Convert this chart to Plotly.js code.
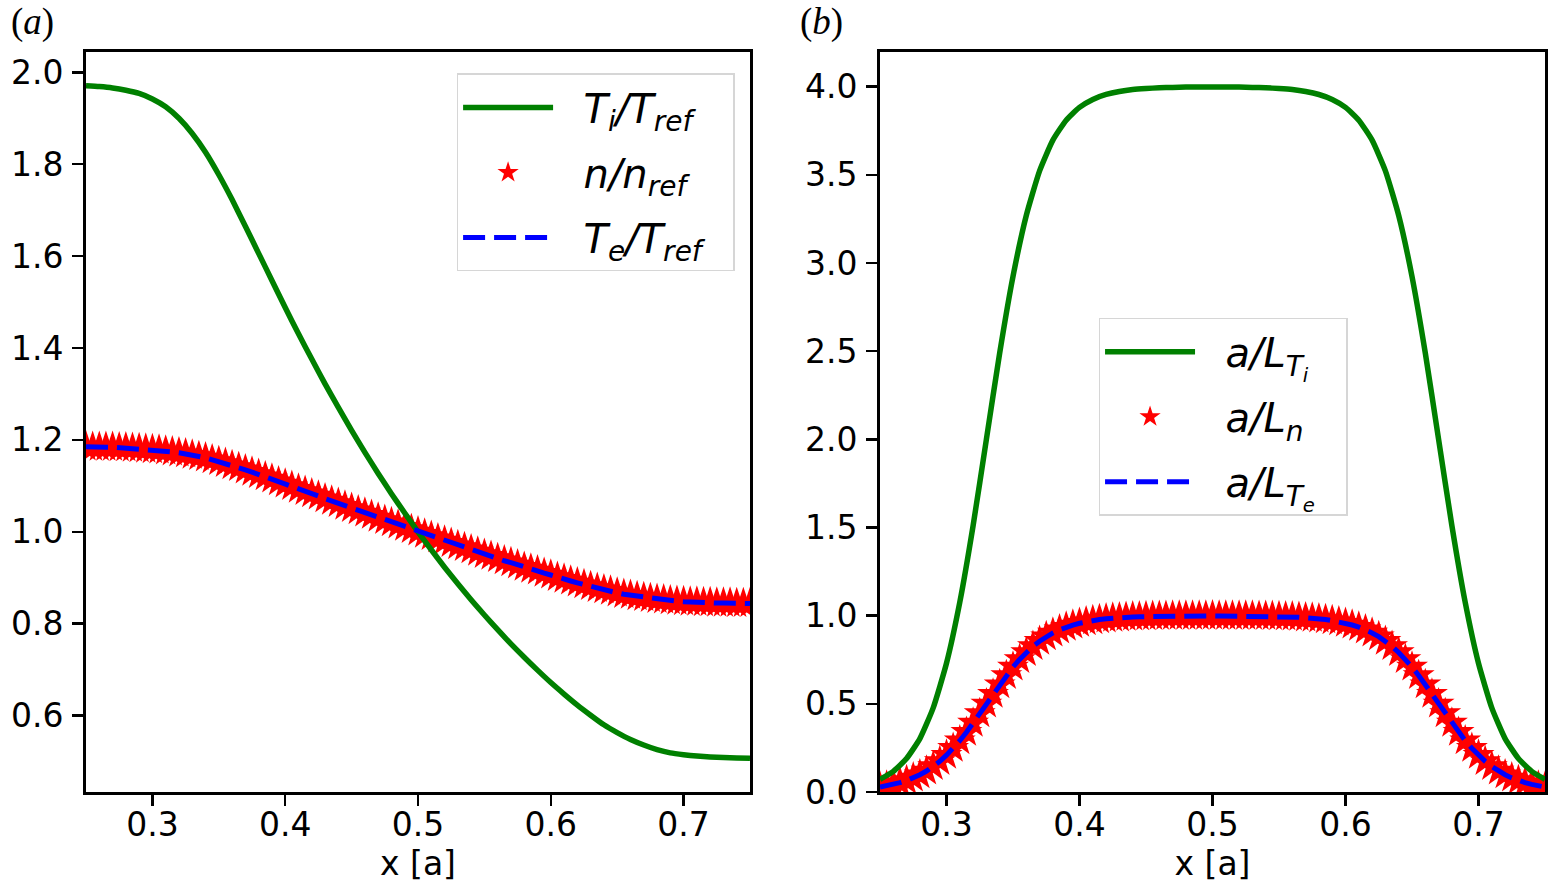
<!DOCTYPE html>
<html>
<head>
<meta charset="utf-8">
<script src="https://cdn.plot.ly/plotly-3.0.1.min.js"></script>
<style>
  body { margin: 0; background: #ffffff; }
  #chart { width: 1550px; height: 886px; }
</style>
</head>
<body>
<div id="chart"></div>
<script>
// grid for the solid lines
var xLine = [0.25,0.26,0.27,0.28,0.29,0.30,0.31,0.32,0.33,0.34,0.35,0.36,0.37,0.38,0.39,0.40,0.41,0.42,0.43,0.44,0.45,0.46,0.47,0.48,0.49,0.50,
	0.51,0.52,0.53,0.54,0.55,0.56,0.57,0.58,0.59,0.60,0.61,0.62,0.63,0.64,0.65,0.66,0.67,0.68,0.69,0.70,0.71,0.72,0.73,0.74,0.75];

// (a) T_i / T_ref
var tiRatio = [1.971,1.969,1.966,1.961,1.954,1.942,1.925,1.900,1.867,1.826,1.777,1.723,1.665,1.606,1.547,1.488,1.431,1.376,1.322,1.271,1.221,1.173,1.127,1.083,1.041,1.000,
	0.961,0.923,0.887,0.852,0.819,0.787,0.756,0.727,0.699,0.672,0.647,0.623,0.601,0.580,0.563,0.548,0.536,0.526,0.519,0.515,0.512,0.510,0.509,0.508,0.507];

// (b) a/L_Ti
var aLTi = [0.072,0.117,0.190,0.303,0.477,0.730,1.076,1.510,2.000,2.490,2.924,3.270,3.523,3.697,3.810,3.883,3.928,3.956,3.973,3.984,3.990,3.994,3.996,3.998,3.998,3.998,
	3.998,3.998,3.996,3.994,3.990,3.984,3.973,3.956,3.928,3.883,3.810,3.697,3.523,3.270,2.924,2.490,2.000,1.510,1.076,0.730,0.477,0.303,0.190,0.117,0.072];

// denser grid for the star markers and dashed lines
var xStar = [0.250,0.255,0.260,0.265,0.270,0.275,0.280,0.285,0.290,0.295,0.300,0.305,0.310,0.315,0.320,0.325,0.330,0.335,0.340,0.345,
	0.350,0.355,0.360,0.365,0.370,0.375,0.380,0.385,0.390,0.395,0.400,0.405,0.410,0.415,0.420,0.425,0.430,0.435,0.440,0.445,
	0.450,0.455,0.460,0.465,0.470,0.475,0.480,0.485,0.490,0.495,0.500,0.505,0.510,0.515,0.520,0.525,0.530,0.535,0.540,0.545,
	0.550,0.555,0.560,0.565,0.570,0.575,0.580,0.585,0.590,0.595,0.600,0.605,0.610,0.615,0.620,0.625,0.630,0.635,0.640,0.645,
	0.650,0.655,0.660,0.665,0.670,0.675,0.680,0.685,0.690,0.695,0.700,0.705,0.710,0.715,0.720,0.725,0.730,0.735,0.740,0.745,0.750];

// (a) n / n_ref  (T_e / T_ref lies on top of it)
var nRatio = [1.185,1.184,1.184,1.184,1.184,1.183,1.183,1.182,1.181,1.180,1.179,1.178,1.176,1.174,1.172,1.170,1.167,1.164,1.161,1.157,
	1.153,1.149,1.144,1.140,1.135,1.130,1.125,1.120,1.115,1.109,1.104,1.099,1.093,1.088,1.083,1.078,1.072,1.067,1.062,1.056,
	1.051,1.046,1.041,1.036,1.030,1.025,1.020,1.015,1.010,1.005,1.000,0.995,0.990,0.985,0.980,0.975,0.970,0.966,0.961,0.956,
	0.951,0.947,0.942,0.937,0.933,0.928,0.923,0.919,0.915,0.910,0.906,0.901,0.897,0.893,0.889,0.885,0.881,0.877,0.874,0.871,
	0.867,0.864,0.862,0.859,0.857,0.855,0.853,0.852,0.850,0.849,0.848,0.847,0.847,0.846,0.846,0.845,0.845,0.845,0.844,0.844,0.844];
var teRatio = nRatio;

// (b) a/L_n  (a/L_Te lies on top of it)
var aLn = [0.028,0.034,0.043,0.053,0.065,0.080,0.098,0.119,0.145,0.174,0.209,0.248,0.291,0.339,0.391,0.445,0.500,0.555,0.609,0.661,
	0.709,0.752,0.791,0.826,0.855,0.881,0.902,0.920,0.935,0.947,0.957,0.966,0.972,0.978,0.982,0.986,0.988,0.991,0.993,0.994,
	0.995,0.996,0.997,0.997,0.998,0.998,0.998,0.998,0.998,0.998,0.999,0.998,0.998,0.998,0.998,0.998,0.998,0.997,0.997,0.996,
	0.995,0.994,0.993,0.991,0.988,0.986,0.982,0.978,0.972,0.966,0.957,0.947,0.935,0.920,0.902,0.881,0.855,0.826,0.791,0.752,
	0.709,0.661,0.609,0.555,0.500,0.445,0.391,0.339,0.291,0.248,0.209,0.174,0.145,0.119,0.098,0.080,0.065,0.053,0.043,0.034,0.028];
var aLTe = aLn;

var green = '#008000';
var tickFont = { family: 'DejaVu Sans', size: 33, color: '#000' };
var legFont = { family: 'DejaVu Sans', size: 40, color: '#000' };
var pad = '&nbsp;&nbsp;';

function solid(x, y, name, xa, ya, leg) {
	return { x: x, y: y, name: pad + name + pad, xaxis: xa, yaxis: ya, legend: leg, legendgroup: leg + 'a', legendrank: 1,
		type: 'scatter', mode: 'lines', line: { color: green, width: 5.5, shape: 'spline', smoothing: 0.5 } };
}
function stars(x, y, name, xa, ya, leg) {
	return { x: x, y: y, name: pad + name + pad, xaxis: xa, yaxis: ya, legend: leg, legendgroup: leg + 'b', legendrank: 2,
		type: 'scatter', mode: 'markers', marker: { symbol: 'star', color: 'red', size: 24, line: { width: 0 } } };
}
function dashed(x, y, name, xa, ya, leg) {
	return { x: x, y: y, name: pad + name + pad, xaxis: xa, yaxis: ya, legend: leg, legendgroup: leg + 'c', legendrank: 3,
		type: 'scatter', mode: 'lines', line: { color: 'blue', width: 5, dash: '22px,9px' } };
}

// stars first so both lines sit on top of them
var data = [
	stars(xStar, nRatio, '<i>n/n<sub>ref</sub></i>', 'x', 'y', 'legend'),
	solid(xLine, tiRatio, '<i>T<sub>i</sub>/T<sub>ref</sub></i>', 'x', 'y', 'legend'),
	dashed(xStar, teRatio, '<i>T<sub>e</sub>/T<sub>ref</sub></i>', 'x', 'y', 'legend'),
	stars(xStar, aLn, '<i>a/L<sub>n</sub></i>', 'x2', 'y2', 'legend2'),
	solid(xLine, aLTi, '<i>a/L<sub>T<sub>i</sub></sub></i>', 'x2', 'y2', 'legend2'),
	dashed(xStar, aLTe, '<i>a/L<sub>T<sub>e</sub></sub></i>', 'x2', 'y2', 'legend2')
];

function xAxis(dom, anchor) {
	return { domain: dom, anchor: anchor, range: [0.25, 0.75], dtick: 0.1, tick0: 0.3, tickformat: '.1f',
		showline: true, mirror: true, linecolor: '#000', linewidth: 3, showgrid: false, zeroline: false,
		ticks: 'outside', ticklen: 11, tickwidth: 2.5, tickcolor: '#000', tickfont: tickFont, ticklabelstandoff: -10,
		title: { text: 'x [a]', font: tickFont, standoff: 6 } };
}
function yAxis(range, dtick, anchor) {
	return { domain: [0, 1], anchor: anchor, range: range, dtick: dtick, tickformat: '.1f',
		showline: true, mirror: true, linecolor: '#000', linewidth: 3, showgrid: false, zeroline: false,
		ticks: 'outside', ticklen: 11, tickwidth: 2.5, tickcolor: '#000', tickfont: tickFont, ticklabelstandoff: 2 };
}
function legendBox(x, y) {
	return { x: x, y: y, xref: 'paper', yref: 'paper', xanchor: 'left', yanchor: 'top',
		bgcolor: 'rgba(255,255,255,0.85)', bordercolor: '#d6d6d6', borderwidth: 1.5,
		font: legFont, itemwidth: 90, tracegroupgap: 10, traceorder: 'grouped' };
}

var layout = {
	width: 1550, height: 886,
	margin: { l: 86, r: 5, t: 52, b: 94 },
	paper_bgcolor: '#ffffff', plot_bgcolor: '#ffffff',
	xaxis: xAxis([0, 0.4551], 'y'),
	yaxis: yAxis([0.4338, 2.0442], 0.2, 'x'),
	xaxis2: xAxis([0.5442, 1], 'y2'),
	yaxis2: yAxis([0, 4.197], 0.5, 'x2'),
	legend: legendBox(0.254, 0.971),
	legend2: legendBox(0.694, 0.641),
	annotations: [
		{ text: '(<i>a</i>)', xref: 'paper', yref: 'paper', x: -0.053, y: 1.041, xanchor: 'left', yanchor: 'middle',
			showarrow: false, font: { family: 'Liberation Serif', size: 37, color: '#000' } },
		{ text: '(<i>b</i>)', xref: 'paper', yref: 'paper', x: 0.4880, y: 1.041, xanchor: 'left', yanchor: 'middle',
			showarrow: false, font: { family: 'Liberation Serif', size: 37, color: '#000' } }
	]
};

Plotly.newPlot('chart', data, layout, { displayModeBar: false, staticPlot: true });
</script>
</body>
</html>
